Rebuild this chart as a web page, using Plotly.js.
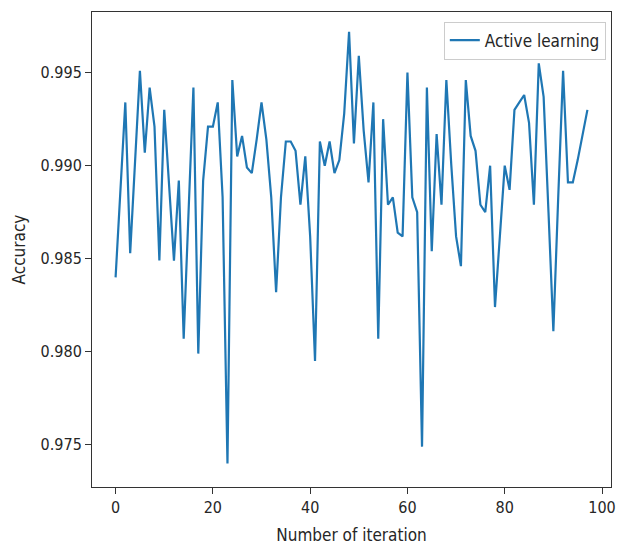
<!DOCTYPE html>
<html>
<head>
<meta charset="utf-8">
<script src="https://cdn.plot.ly/plotly-3.0.1.min.js"></script>
<style>
html,body{margin:0;padding:0;background:#fff;}
#chart{width:617px;height:550px;}
</style>
</head>
<body>
<div id="chart"></div>
<script>
const seriesName = "Active learning";
const xTitle = "Number of iteration";
const yTitle = "Accuracy";
const xTicks = [0, 20, 40, 60, 80, 100];
const yTicks = [0.975, 0.980, 0.985, 0.990, 0.995];
const accuracy = [
  0.9840, 0.9887, 0.9934, 0.9853, 0.9903, 0.9951, 0.9907, 0.9942, 0.9921, 0.9849,
  0.9930, 0.9892, 0.9849, 0.9892, 0.9807, 0.9875, 0.9942, 0.9799, 0.9892, 0.9921,
  0.9921, 0.9934, 0.9883, 0.9740, 0.9946, 0.9905, 0.9916, 0.9899, 0.9896, 0.9914,
  0.9934, 0.9914, 0.9883, 0.9832, 0.9883, 0.9913, 0.9913, 0.9908, 0.9879, 0.9905,
  0.9862, 0.9795, 0.9913, 0.9900, 0.9913, 0.9896, 0.9903, 0.9928, 0.9972, 0.9912,
  0.9959, 0.9919, 0.9891, 0.9934, 0.9807, 0.9925, 0.9879, 0.9883, 0.9864, 0.9862,
  0.9950, 0.9883, 0.9875, 0.9749, 0.9942, 0.9854, 0.9917, 0.9879, 0.9946, 0.9901,
  0.9862, 0.9846, 0.9946, 0.9916, 0.9908, 0.9879, 0.9875, 0.9900, 0.9824, 0.9862,
  0.9900, 0.9887, 0.9930, 0.9934, 0.9938, 0.9923, 0.9879, 0.9955, 0.9937, 0.9875,
  0.9811, 0.9883, 0.9951, 0.9891, 0.9891, 0.9903, 0.9916, 0.9930
];
const iterations = accuracy.map((_, i) => i);

const fontFam = "DejaVu Sans Condensed, DejaVu Sans, sans-serif";
const txt = "#262626";

const trace = {
  x: iterations,
  y: accuracy,
  type: "scatter",
  mode: "lines",
  name: seriesName,
  line: {color: "#1f77b4", width: 2.2}
};

const layout = {
  width: 617,
  height: 550,
  margin: {l: 92, r: 6, t: 12, b: 63},
  paper_bgcolor: "#ffffff",
  plot_bgcolor: "#ffffff",
  font: {family: fontFam, size: 16, color: txt},
  showlegend: true,
  legend: {
    x: 0.99, y: 0.98, xanchor: "right", yanchor: "top",
    bgcolor: "rgba(255,255,255,0.8)",
    bordercolor: "#cccccc", borderwidth: 1,
    font: {family: fontFam, size: 17, color: txt},
    tracegroupgap: 0
  },
  xaxis: {
    range: [-4.85, 101.85],
    tickmode: "array",
    tickvals: xTicks,
    ticktext: xTicks.map(String),
    showgrid: false, zeroline: false,
    showline: true, mirror: true, linecolor: "#333333", linewidth: 1,
    ticks: "outside", ticklen: 6, tickcolor: "#333333",
    tickfont: {family: fontFam, size: 16, color: txt},
    title: {text: xTitle, font: {family: fontFam, size: 17, color: txt}, standoff: 12}
  },
  yaxis: {
    range: [0.97273, 0.99826],
    tickmode: "array",
    tickvals: yTicks,
    ticktext: yTicks.map(v => v.toFixed(3)),
    showgrid: false, zeroline: false,
    showline: true, mirror: true, linecolor: "#333333", linewidth: 1,
    ticks: "outside", ticklen: 6, tickcolor: "#333333",
    tickfont: {family: fontFam, size: 16, color: txt},
    title: {text: yTitle, font: {family: fontFam, size: 17, color: txt}, standoff: 10}
  }
};

Plotly.newPlot("chart", [trace], layout, {displayModeBar: false, staticPlot: true});
</script>
</body>
</html>
